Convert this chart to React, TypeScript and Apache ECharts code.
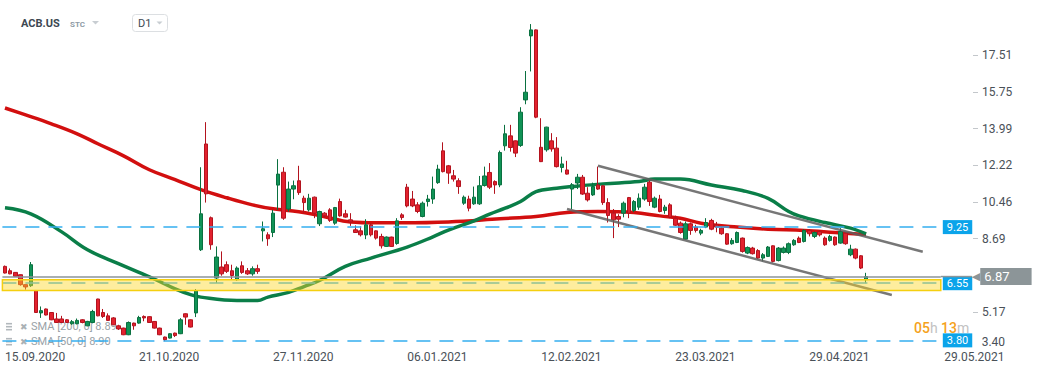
import React, { useEffect, useRef } from "react";
import * as echarts from "echarts";

// ---------- categories ----------
const START_DATE = "2020-09-15";
const SLOT_COUNT = 182;
const HOLIDAYS = ["2020-11-26", "2020-12-25", "2021-01-01", "2021-01-18", "2021-02-15", "2021-04-02", "2021-05-31"];
const LABEL_EVERY = 26;

// ---------- candles (OHLC) ----------
const opens = [
  7.36, 7.15, 7.07, 6.96, 6.48, 6.43, 6.2, 5.12, 5.31, 5.14,
  4.83, 4.83, 4.79, 4.6, 4.6, 4.79, 4.5, 4.66, 5.79, 5.14,
  4.98, 4.88, 4.5, 4.39, 4.07, 4.63, 4.63, 4.95, 4.94, 4.71,
  4.39, 3.96, 3.91, 4.15, 4.12, 5.08, 4.79, 5.12, 8.16, 13.25,
  9.7, 6.8, 7.33, 7.44, 7.15, 6.72, 7.39, 7.15, 7.0, 7.25,
  9.07, 8.88, 8.99, 11.27, 11.89, 10.12, 11.08, 11.48, 10.64, 10.08,
  10.69, 9.41, 9.92, 10.08, 9.44, 10.48, 9.89, 9.6, 9.12, 9.07,
  8.87, 9.36, 9.07, 8.8, 8.32, 8.77, 8.46, 9.84, 11.17, 10.6,
  10.32, 9.76, 10.48, 10.6, 11.39, 12.92, 12.2, 11.72, 11.48, 10.4,
  10.6, 10.37, 10.37, 11.25, 11.88, 11.44, 11.28, 13.16, 13.64, 13.4,
  13.18, 15.37, 18.45, 18.74, 13.09, 12.97, 13.4, 13.05, 12.12, 12.0,
  11.08, 11.37, 11.65, 10.88, 10.8, 11.28, 11.24, 10.43, 9.92, 9.76,
  9.92, 10.67, 10.05, 10.21, 10.6, 11.41, 10.21, 10.6, 10.05, 10.32,
  9.67, 9.44, 8.67, 9.41, 9.25, 8.96, 9.25, 9.57, 9.36, 9.2,
  8.93, 8.45, 8.51, 8.72, 8.0, 8.24, 8.12, 7.76, 7.84, 8.35,
  7.64, 8.03, 8.03, 8.4, 8.72, 8.56, 9.09, 8.8, 9.04, 8.72,
  8.61, 8.77, 8.48, 8.96, 7.92, 8.19, 7.87, 6.72,
];
const closes = [
  7.04, 7.0, 6.88, 6.48, 6.37, 7.44, 5.14, 5.23, 5.02, 4.79,
  4.66, 4.66, 4.66, 4.7, 4.76, 4.66, 4.71, 5.19, 4.98, 4.95,
  4.76, 4.55, 4.35, 4.07, 4.66, 4.5, 4.9, 4.88, 4.66, 4.39,
  4.07, 3.83, 4.12, 4.03, 4.79, 4.92, 4.44, 6.19, 9.89, 10.85,
  8.4, 7.81, 7.0, 7.12, 6.92, 7.28, 7.07, 7.0, 7.25, 7.12,
  9.17, 8.69, 9.92, 11.8, 9.68, 11.08, 11.24, 10.91, 10.43, 10.64,
  9.92, 10.0, 9.79, 9.57, 10.19, 9.79, 9.73, 9.5, 8.99, 8.88,
  9.36, 8.88, 8.72, 8.35, 8.77, 8.32, 9.55, 9.71, 10.27, 10.27,
  10.0, 10.4, 10.6, 11.08, 12.04, 11.92, 11.85, 11.56, 11.2, 10.69,
  10.16, 10.69, 11.24, 11.71, 11.17, 11.28, 12.84, 13.74, 13.08, 12.81,
  14.78, 15.74, 18.74, 14.54, 12.4, 14.06, 13.01, 12.16, 12.29, 11.8,
  11.29, 11.65, 10.84, 10.56, 11.2, 11.08, 10.43, 9.81, 9.6, 9.63,
  10.4, 9.92, 10.48, 10.64, 11.17, 10.48, 10.64, 10.0, 10.21, 9.73,
  9.34, 8.99, 9.41, 9.09, 9.09, 9.09, 9.47, 9.15, 9.25, 8.93,
  8.43, 8.61, 8.99, 8.08, 8.27, 7.97, 7.76, 7.92, 8.29, 7.6,
  8.24, 8.24, 8.45, 8.61, 8.51, 9.09, 8.93, 8.99, 8.88, 8.4,
  8.8, 8.4, 9.04, 8.45, 8.19, 7.76, 7.28, 6.87,
];
const highs = [
  7.4, 7.26, 7.08, 6.97, 6.49, 7.57, 6.22, 5.43, 5.33, 5.16,
  5.12, 4.98, 4.82, 4.78, 4.85, 4.82, 4.74, 5.27, 5.8, 5.31,
  5.1, 4.92, 4.55, 4.41, 4.71, 4.65, 4.98, 5.0, 4.96, 4.73,
  4.41, 3.98, 4.14, 4.17, 4.87, 5.1, 4.81, 6.27, 12.13, 14.3,
  9.76, 8.32, 8.08, 7.6, 7.44, 7.36, 7.6, 7.28, 7.36, 7.44,
  9.52, 9.0, 10.08, 12.52, 12.13, 11.44, 11.49, 12.2, 10.76, 10.85,
  10.72, 10.04, 9.97, 10.16, 10.22, 10.62, 10.08, 9.92, 9.33, 9.28,
  9.63, 9.44, 9.09, 8.93, 8.8, 8.79, 9.68, 9.92, 11.33, 10.99,
  10.45, 10.48, 10.8, 11.68, 12.25, 13.33, 12.24, 12.0, 11.6, 10.77,
  10.76, 11.2, 11.71, 12.16, 12.33, 11.5, 12.93, 14.17, 14.17, 13.42,
  15.02, 16.76, 19.02, 18.76, 14.49, 14.08, 13.77, 13.58, 12.64, 12.44,
  11.37, 11.81, 11.76, 11.17, 11.39, 12.16, 11.26, 10.64, 10.12, 9.87,
  10.48, 10.7, 10.55, 10.87, 11.33, 11.52, 10.72, 10.8, 10.32, 10.4,
  9.8, 9.52, 9.52, 9.47, 9.36, 9.17, 9.68, 9.65, 9.5, 9.28,
  8.96, 8.72, 9.04, 8.75, 8.32, 8.3, 8.19, 8.0, 8.34, 8.37,
  8.29, 8.32, 8.51, 8.67, 8.8, 9.15, 9.15, 9.04, 9.1, 8.8,
  8.88, 8.8, 9.2, 9.0, 8.4, 8.22, 7.9, 7.05,
];
const lows = [
  7.02, 6.98, 6.86, 6.43, 6.24, 6.37, 5.12, 4.88, 5.0, 4.77,
  4.64, 4.64, 4.64, 4.55, 4.57, 4.62, 4.48, 4.62, 4.96, 4.88,
  4.74, 4.53, 4.3, 4.05, 4.05, 4.31, 4.6, 4.72, 4.64, 4.37,
  4.05, 3.76, 3.89, 3.96, 4.1, 4.55, 4.42, 4.92, 8.1, 10.43,
  8.16, 6.56, 6.91, 7.04, 6.72, 6.67, 7.0, 6.95, 6.91, 7.0,
  8.56, 8.35, 8.77, 10.08, 9.6, 10.0, 10.59, 10.8, 9.92, 10.0,
  9.68, 9.3, 9.7, 9.5, 9.36, 9.75, 9.7, 9.31, 8.97, 8.8,
  8.67, 8.8, 8.65, 8.22, 8.3, 8.3, 8.4, 9.6, 10.2, 10.21,
  9.92, 9.72, 10.24, 10.37, 11.33, 11.88, 11.33, 11.44, 10.85, 10.32,
  10.01, 10.32, 10.32, 11.2, 11.08, 10.85, 11.17, 12.93, 12.88, 12.62,
  13.11, 15.16, 16.74, 14.49, 12.38, 12.88, 12.88, 12.12, 11.88, 11.78,
  10.12, 11.08, 10.8, 10.48, 10.75, 11.04, 10.32, 9.47, 8.72, 9.25,
  9.72, 9.68, 9.97, 10.08, 10.52, 10.27, 10.16, 9.96, 9.89, 9.68,
  9.31, 8.93, 8.64, 8.88, 8.99, 8.86, 9.2, 9.1, 9.0, 8.88,
  8.4, 8.4, 8.48, 8.02, 7.95, 7.93, 7.71, 7.6, 7.81, 7.55,
  7.6, 7.98, 7.95, 8.35, 8.48, 8.51, 8.8, 8.72, 8.8, 8.35,
  8.55, 8.35, 8.45, 8.4, 7.85, 7.7, 7.23, 6.55,
];

// ---------- indicators (read at sample points: [candle index, value]) ----------
const sma200 = [
  [0, 14.98], [4, 14.65], [9, 14.22], [14, 13.74], [18, 13.26], [23, 12.68], [28, 12.01],
  [33, 11.53], [38, 11.05], [43, 10.66], [48, 10.32], [52, 10.13], [57, 9.99], [62, 9.75],
  [67, 9.5], [72, 9.46], [77, 9.46], [86, 9.5], [96, 9.65], [103, 9.76], [109, 9.95],
  [115, 10.0], [122, 9.95], [127, 9.79], [131, 9.68], [135, 9.44], [142, 9.25], [148, 9.15],
  [155, 9.09], [161, 8.99], [167, 8.89],
];
const sma50 = [
  [0, 10.18], [5, 9.89], [11, 9.02], [16, 8.16], [22, 7.49], [28, 6.86], [33, 6.28],
  [36, 6.0], [38, 5.88], [45, 5.72], [49, 5.72], [51, 5.88], [55, 6.11], [58, 6.39],
  [61, 6.68], [66, 7.36], [71, 7.76], [78, 8.29], [83, 8.78], [86, 9.11], [91, 9.55],
  [94, 9.87], [97, 10.16], [100, 10.48], [103, 10.96], [107, 11.12], [110, 11.2],
  [116, 11.33], [123, 11.44], [126, 11.56], [131, 11.56], [137, 11.28], [143, 11.01],
  [148, 10.63], [152, 10.0], [154, 9.79], [159, 9.47], [164, 9.2], [167, 8.92],
];

// ---------- drawings ----------
const trendUpper = [[115, 12.2], [178, 8.06]];
const trendLower = [[109, 10.12], [172, 5.98]];
const levelLines = [9.25, 6.55, 3.8];
const supportBand = [6.72, 6.2];
const lastPrice = 6.87;

// ---------- tick labels / texts ----------
const yTickValues = [5.17, 8.69, 10.46, 12.22, 13.99, 15.75, 17.51];
const bottomTickLabel = "3.40";
const futureDateLabel = "29.05.2021";
const legendItems = ["SMA [200, 0] 8.89", "SMA [50, 0] 8.90"];
const symbolName = "ACB.US";
const symbolType = "STC";
const timeframe = "D1";
const timerParts = ["05", "h", "13", "m"];

function buildTradingDays(start: string, count: number): string[] {
  const out: string[] = [];
  const d = new Date(start + "T00:00:00Z");
  while (out.length < count) {
    const dow = d.getUTCDay();
    const iso = d.toISOString().slice(0, 10);
    if (dow !== 0 && dow !== 6 && !HOLIDAYS.includes(iso)) {
      out.push(`${iso.slice(8, 10)}.${iso.slice(5, 7)}.${iso.slice(0, 4)}`);
    }
    d.setUTCDate(d.getUTCDate() + 1);
  }
  return out;
}

const FONT = "Roboto";
const BLUE = "#0ba4ea";
const GRAY_BOX = "#8c9598";

export default function App() {
  const ref = useRef<HTMLDivElement>(null);

  useEffect(() => {
    document.body.style.margin = "0";
    if (!ref.current) return;
    const chart = echarts.init(ref.current, undefined, { renderer: "svg" });
    const dates = buildTradingDays(START_DATE, SLOT_COUNT);
    const candles = opens.map((o, i) => [o, closes[i], lows[i], highs[i]]);

    const legendGraphics: any[] = [];
    legendItems.forEach((txt, k) => {
      const cy = 326.7 + k * 15;
      [-3, 0, 3].forEach((dy) => {
        legendGraphics.push({
          type: "rect",
          silent: true,
          shape: { x: 6, y: cy + dy - 0.8, width: 6, height: 1.6 },
          style: { fill: "#b2b8bc" },
        });
      });
      legendGraphics.push({
        type: "text",
        silent: true,
        x: 20,
        y: cy,
        style: { text: "✖", fontSize: 9, fontFamily: "DejaVu Sans", fill: "#aab1b5", verticalAlign: "middle" },
      });
      legendGraphics.push({
        type: "text",
        silent: true,
        x: 31,
        y: cy,
        style: { text: txt, fontSize: 11, fontFamily: FONT, fill: "#9aa2a7", verticalAlign: "middle" },
      });
    });

    const option: any = {
      animation: false,
      grid: { left: 2.4, right: 100.2, top: 0, bottom: 24, containLabel: false },
      xAxis: {
        type: "category",
        data: dates,
        boundaryGap: true,
        axisLine: { show: false },
        axisTick: { show: false },
        splitLine: { show: false },
        axisLabel: {
          interval: (i: number) => i % LABEL_EVERY === 0,
          align: "left",
          margin: 1,
          color: "#4a5158",
          fontSize: 12,
          fontFamily: FONT,
        },
      },
      yAxis: {
        type: "value",
        position: "right",
        offset: 32.2,
        min: 3.336,
        max: 20.178,
        splitLine: { show: false },
        axisLine: { show: false },
        axisTick: { show: true, length: 5, customValues: yTickValues, lineStyle: { color: "#c3c7cb" } },
        axisLabel: {
          customValues: yTickValues,
          formatter: (v: number) => v.toFixed(2),
          margin: 9,
          color: "#4a5158",
          fontSize: 12,
          fontFamily: FONT,
        },
      },
      series: [
        {
          type: "line",
          name: "SMA200",
          data: sma200,
          symbol: "none",
          smooth: 0.4,
          silent: true,
          z: 1,
          lineStyle: { color: "#d20f0f", width: 3.5 },
        },
        {
          type: "line",
          name: "SMA50",
          data: sma50,
          symbol: "none",
          smooth: 0.4,
          silent: true,
          z: 1,
          lineStyle: { color: "#0a7e48", width: 3.5 },
        },
        {
          type: "candlestick",
          data: candles,
          barWidth: 4,
          z: 3,
          silent: true,
          itemStyle: {
            color: "#109356",
            color0: "#e2212e",
            borderColor: "#0a7040",
            borderColor0: "#b3131e",
            borderWidth: 1,
          },
          markArea: {
            silent: true,
            z: 10,
            itemStyle: { color: "rgba(252, 214, 40, 0.45)", borderColor: "#f5cf10", borderWidth: 1.5 },
            data: [[{ yAxis: supportBand[0] }, { yAxis: supportBand[1] }]],
          },
          markLine: {
            silent: true,
            symbol: ["none", "none"],
            z: 5,
            data: [
              ...levelLines.map((v) => ({
                yAxis: v,
                lineStyle: { color: "#34aef0", type: [14, 9], width: 1.5 },
                label: {
                  show: true,
                  position: "end",
                  distance: 2,
                  formatter: v.toFixed(2),
                  backgroundColor: BLUE,
                  color: "#fff",
                  fontSize: 11,
                  fontFamily: FONT,
                  padding: [2, 4, 1, 4],
                },
              })),
              {
                yAxis: lastPrice,
                lineStyle: { color: GRAY_BOX, type: "solid", width: 1.5 },
                label: {
                  show: true,
                  position: "end",
                  distance: 0,
                  formatter: `{l|}{a|◀}{b|${lastPrice.toFixed(2)}}`,
                  rich: {
                    l: { width: 31, height: 1.5, backgroundColor: GRAY_BOX },
                    a: { color: GRAY_BOX, fontSize: 11, fontFamily: "DejaVu Sans" },
                    b: {
                      backgroundColor: GRAY_BOX,
                      color: "#fff",
                      fontSize: 13,
                      fontFamily: FONT,
                      padding: [2, 22, 2, 4],
                    },
                  },
                },
              },
            ],
          },
        },
        {
          type: "line",
          data: trendUpper,
          symbol: "none",
          silent: true,
          z: 4,
          lineStyle: { color: "rgba(95,95,95,0.85)", width: 2.5 },
        },
        {
          type: "line",
          data: trendLower,
          symbol: "none",
          silent: true,
          z: 4,
          lineStyle: { color: "rgba(95,95,95,0.85)", width: 2.5 },
        },
      ],
      graphic: [
        {
          type: "text",
          silent: true,
          x: 21,
          y: 23,
          style: { text: symbolName, fontSize: 11, fontWeight: "bold", fontFamily: FONT, fill: "#3d4852", verticalAlign: "middle" },
        },
        {
          type: "text",
          silent: true,
          x: 70,
          y: 24,
          style: { text: symbolType, fontSize: 8, fontWeight: "bold", fontFamily: FONT, fill: "#8e9ba6", verticalAlign: "middle" },
        },
        { type: "polygon", silent: true, shape: { points: [[92, 21], [99, 21], [95.5, 24.5]] }, style: { fill: "#c8cdd2" } },
        {
          type: "rect",
          silent: true,
          shape: { x: 132.5, y: 14.5, width: 35, height: 17, r: 3 },
          style: { fill: "#fff", stroke: "#dcdfe2", lineWidth: 1 },
        },
        {
          type: "text",
          silent: true,
          x: 138,
          y: 23,
          style: { text: timeframe, fontSize: 11, fontFamily: FONT, fill: "#3d4852", verticalAlign: "middle" },
        },
        { type: "polygon", silent: true, shape: { points: [[156.5, 21.5], [162.5, 21.5], [159.5, 24.5]] }, style: { fill: "#c8cdd2" } },
        ...legendGraphics,
        {
          type: "text",
          silent: true,
          x: 914,
          y: 327.5,
          style: {
            text: `{o|${timerParts[0]}}{g|${timerParts[1]}} {o|${timerParts[2]}}{g|${timerParts[3]}}`,
            fontSize: 14,
            fontFamily: FONT,
            verticalAlign: "middle",
            rich: {
              o: { fill: "#f5a21c", fontSize: 14, fontFamily: FONT, fontWeight: 500 },
              g: { fill: "#c2c2c2", fontSize: 14, fontFamily: FONT },
            },
          },
        },
        {
          type: "text",
          silent: true,
          x: 981.7,
          y: 341.7,
          style: { text: bottomTickLabel, fontSize: 12, fontFamily: FONT, fill: "#4a5158", verticalAlign: "middle" },
        },
        {
          type: "text",
          silent: true,
          x: 944.3,
          y: 356.7,
          style: { text: futureDateLabel, fontSize: 12, fontFamily: FONT, fill: "#4a5158", verticalAlign: "middle" },
        },
      ],
    };

    chart.setOption(option);
    return () => chart.dispose();
  }, []);

  return <div ref={ref} style={{ width: 1041, height: 374, position: "absolute", left: 0, top: 0, background: "#fff" }} />;
}
